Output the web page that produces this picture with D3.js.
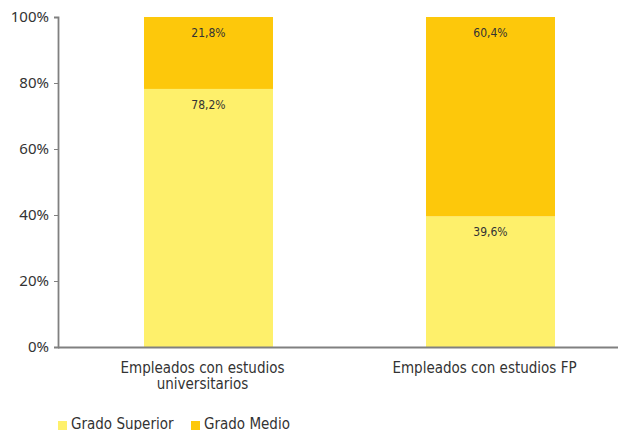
<!DOCTYPE html>
<html><head><meta charset="utf-8">
<script src="https://cdn.jsdelivr.net/npm/d3@7"></script>
<style>
body{margin:0;background:#fff;}
text{font-family:"DejaVu Sans Condensed","Roboto Condensed",Roboto,sans-serif;font-stretch:condensed;fill:#333;}
</style></head>
<body><svg id="c" width="618" height="430"></svg>
<script>
const categories = [["Empleados con estudios","universitarios"],["Empleados con estudios FP"]];
const categoryKeys = ["univ","fp"];
const series = ["Grado Superior","Grado Medio"];
const gradoSuperior = [78.2, 39.6];
const gradoMedio = [21.8, 60.4];
const yTicks = [0,20,40,60,80,100];
const colors = ["#FEF06B","#FDC80B"];

const svg = d3.select("#c");
const y = d3.scaleLinear().domain([0,100]).range([347,17]);
const x = d3.scaleBand().domain(categoryKeys).range([67.5,631.5]).paddingInner(0.5426).paddingOuter(0.2713);

const rows = categoryKeys.map((k,i)=>({key:k, "Grado Superior":gradoSuperior[i], "Grado Medio":gradoMedio[i]}));
const stacked = d3.stack().keys(series)(rows);

const fmt = v => v.toFixed(1).replace(".",",")+"%";

stacked.forEach((s,si)=>{
  const g = svg.append("g");
  g.selectAll("rect").data(s).join("rect")
    .attr("x", d=>x(d.data.key)).attr("width", x.bandwidth())
    .attr("y", d=>y(d[1])).attr("height", d=>y(d[0])-y(d[1]))
    .attr("fill", colors[si]);
  g.selectAll("text").data(s).join("text")
    .attr("x", d=>x(d.data.key)+x.bandwidth()/2)
    .attr("y", d=>y(d[1])+20)
    .attr("text-anchor","middle").attr("font-size",12)
    .text(d=>fmt(d[1]-d[0]));
});

// y axis
const ya = svg.append("g").attr("transform","translate(58,0)")
  .call(d3.axisLeft(y).tickValues(yTicks).tickFormat(d=>d+"%").tickSizeOuter(0).tickSize(4).tickPadding(5));
ya.select(".domain").attr("stroke","#808080").attr("stroke-width",1.8);
ya.selectAll(".tick line").attr("stroke","#808080");
ya.selectAll(".tick text").attr("font-size",15)
  .style("font-family","'Noto Sans',sans-serif").style("font-stretch","normal").style("fill","#333");

// x axis
const xa = svg.append("g").attr("transform","translate(0,347)")
  .call(d3.axisBottom(x).tickSize(0).tickFormat(""));
xa.select(".domain").attr("d","M58,0.5H618").attr("stroke","#808080").attr("stroke-width",1.8);
categoryKeys.forEach((k,i)=>{
  const cx = x(k)+x.bandwidth()/2 - 6;
  const t = svg.append("text").attr("x", cx).attr("y",373)
    .attr("text-anchor","middle").attr("font-size",15);
  categories[i].forEach((line,j)=>t.append("tspan").attr("x",cx).attr("dy", j?16:0).text(line));
});

// legend
const legX = [58,191];
series.forEach((s,i)=>{
  svg.append("rect").attr("x",legX[i]).attr("y",421).attr("width",9).attr("height",9).attr("fill",colors[i]);
  svg.append("text").attr("x",legX[i]+13).attr("y",429).attr("font-size",15).text(s);
});
</script></body></html>
